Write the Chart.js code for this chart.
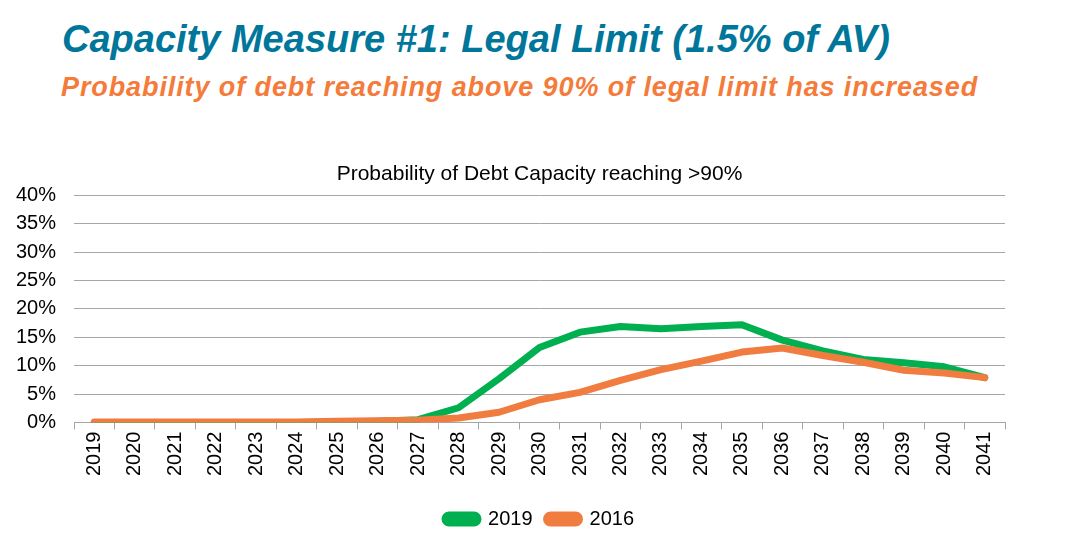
<!DOCTYPE html>
<html>
<head>
<meta charset="utf-8">
<script src="https://cdn.jsdelivr.net/npm/chart.js@4.4.0/dist/chart.umd.min.js"></script>
<style>
  body { margin: 0; width: 1085px; height: 546px; background: #fff; font-family: "Liberation Sans", Arial, sans-serif; position: relative; overflow: hidden; }
  .title { position: absolute; left: 62px; top: 18px; font-size: 38px; font-weight: bold; font-style: italic; color: #00779a; white-space: nowrap; }
  .subtitle { position: absolute; left: 61px; top: 72px; font-size: 27px; font-weight: bold; font-style: italic; color: #f47b3a; white-space: nowrap; letter-spacing: 0.9px; }
  .chart-box { position: absolute; left: -15px; top: 150px; width: 1100px; height: 396px; }
</style>
</head>
<body>
<div class="title">Capacity Measure #1: Legal Limit (1.5% of AV)</div>
<div class="subtitle">Probability of debt reaching above 90% of legal limit has increased</div>
<div class="chart-box"><canvas id="capacityChart"></canvas></div>
<script>
// Chart data (percent)
const years = ['2019', '2020', '2021', '2022', '2023', '2024', '2025', '2026', '2027', '2028', '2029', '2030',
    '2031', '2032', '2033', '2034', '2035', '2036', '2037', '2038', '2039', '2040', '2041'];
const series2019 = [0, 0, 0, 0, 0, 0, 0.1, 0.2, 0.5, 2.6, 7.7, 13.2, 15.9, 16.9, 16.5, 16.9, 17.2, 14.5, 12.6, 11.1, 10.5, 9.8, 7.9];
const series2016 = [0.1, 0.1, 0.1, 0.1, 0.1, 0.1, 0.2, 0.3, 0.4, 0.8, 1.8, 4.0, 5.3, 7.4, 9.3, 10.8, 12.4, 13.1, 11.8, 10.6, 9.2, 8.7, 7.9];
const yTicks = [0, 5, 10, 15, 20, 25, 30, 35, 40];

const green = '#00b050';
const orange = '#f07d3f';

const ctx = document.getElementById('capacityChart').getContext('2d');
const capacityChart = new Chart(ctx, {
    type: 'line',
    data: {
        labels: years,
        datasets: [{
            label: '2019',
            data: series2019,
            borderColor: green,
            backgroundColor: green,
            borderWidth: 7,
            pointRadius: 0,
            tension: 0,
            borderCapStyle: 'round',
            borderJoinStyle: 'round',
            order: 2
        }, {
            label: '2016',
            data: series2016,
            borderColor: orange,
            backgroundColor: orange,
            borderWidth: 7,
            pointRadius: 0,
            tension: 0,
            borderCapStyle: 'round',
            borderJoinStyle: 'round',
            order: 1
        }]
    },
    options: {
        responsive: true,
        maintainAspectRatio: false,
        animation: false,
        layout: {
            padding: { left: 13, right: 80, top: 0, bottom: 7 }
        },
        scales: {
            y: {
                min: 0,
                max: 40,
                afterBuildTicks: (axis) => {
                    axis.ticks = yTicks.map(v => ({ value: v }));
                },
                border: { display: false },
                grid: {
                    color: '#a6a6a6',
                    lineWidth: 1,
                    drawTicks: false
                },
                ticks: {
                    color: '#000',
                    padding: 18,
                    font: { family: 'Liberation Sans', size: 20 },
                    callback: v => v + '%'
                }
            },
            x: {
                offset: true,
                // leave room between the year labels and the legend
                afterFit: (scale) => { scale.height += 17; },
                border: { display: true, color: '#a6a6a6' },
                grid: {
                    offset: true,
                    drawOnChartArea: false,
                    drawTicks: true,
                    tickLength: 7,
                    color: '#a6a6a6'
                },
                ticks: {
                    color: '#000',
                    minRotation: 90,
                    maxRotation: 90,
                    autoSkip: false,
                    padding: 2,
                    font: { family: 'Liberation Sans', size: 20 }
                }
            }
        },
        plugins: {
            title: {
                display: true,
                fullSize: false,
                text: 'Probability of Debt Capacity reaching >90%',
                color: '#000',
                font: { family: 'Liberation Sans', size: 21, weight: 'normal' },
                padding: { top: 12, bottom: 8 }
            },
            legend: {
                position: 'bottom',
                fullSize: false,
                labels: {
                    color: '#000',
                    boxWidth: 33,
                    boxHeight: 8,
                    padding: 14,
                    useBorderRadius: true,
                    borderRadius: 4,
                    font: { family: 'Liberation Sans', size: 20 },
                    sort: (a, b) => a.datasetIndex - b.datasetIndex
                }
            },
            tooltip: { enabled: false }
        }
    }
});
</script>
</body>
</html>
